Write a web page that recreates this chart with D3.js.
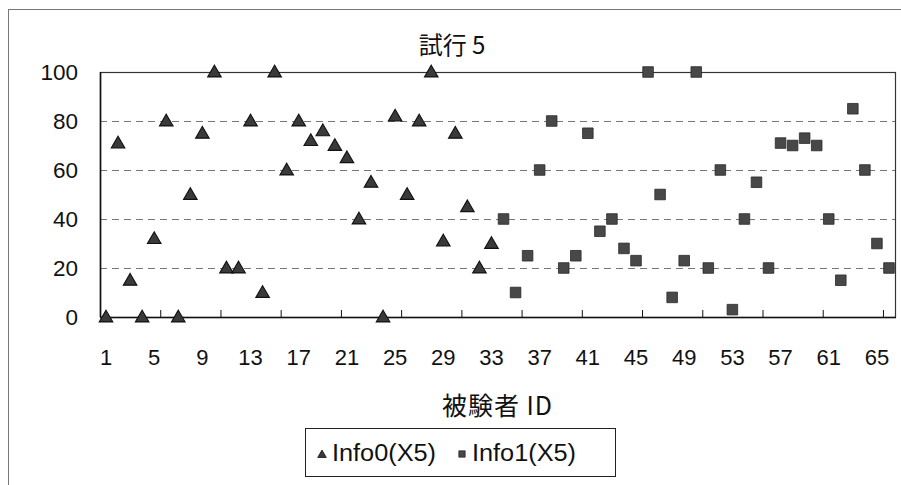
<!DOCTYPE html>
<html>
<head>
<meta charset="utf-8">
<script src="https://cdn.jsdelivr.net/npm/d3@7"></script>
<style>
  body { margin: 0; background: #fff; }
  svg { display: block; }
  text { font-family: "Liberation Sans", Arial, "Noto Sans CJK JP", sans-serif; fill: #111; }
</style>
</head>
<body>
<script>
// Subject IDs 1..66
const subjectIds = d3.range(1, 67);
// Info0(X5): subjects 1..33
const info0Ids = d3.range(1, 34);
const info0Values = [0, 71, 15, 0, 32, 80, 0, 50, 75, 100, 20, 20, 80, 10, 100, 60,
  80, 72, 76, 70, 65, 40, 55, 0, 82, 50, 80, 100, 31, 75, 45, 20, 30];
// Info1(X5): subjects 34..66
const info1Ids = d3.range(34, 67);
const info1Values = [40, 10, 25, 60, 80, 20, 25, 75, 35, 40, 28, 23, 100, 50, 8, 23,
  100, 20, 60, 3, 40, 55, 20, 71, 70, 73, 70, 40, 15, 85, 60, 30, 20];
const yTicks = [0, 20, 40, 60, 80, 100];
const xLabelIds = d3.range(1, 67, 4);
const xTickBoundaries = d3.range(5, 66, 5);
const seriesNames = ["Info0(X5)", "Info1(X5)"];

const W = 901, H = 485;
const plot = { left: 100, right: 895, top: 72, bottom: 317 };
const cjk = "'Noto Sans CJK JP', 'Liberation Sans', sans-serif";

const svg = d3.select("body").append("svg").attr("width", W).attr("height", H);

// outer chart frame
svg.append("rect")
  .attr("x", 8.5).attr("y", 9.5).attr("width", 900).attr("height", 490)
  .attr("fill", "none").attr("stroke", "#777").attr("stroke-width", 1);

const x = d3.scaleBand().domain(subjectIds).range([plot.left, plot.right]).padding(0);
const y = d3.scaleLinear().domain([0, 100]).range([plot.bottom, plot.top]);

// dashed gridlines
svg.append("g").selectAll("line")
  .data(yTicks.filter(v => v > 0 && v < 100))
  .join("line")
  .attr("x1", plot.left).attr("x2", plot.right)
  .attr("y1", d => y(d) + 0.5).attr("y2", d => y(d) + 0.5)
  .attr("stroke", "#777").attr("stroke-width", 1)
  .attr("stroke-dasharray", "7,5");

// plot border
svg.append("rect")
  .attr("x", plot.left + 0.5).attr("y", plot.top + 0.5)
  .attr("width", plot.right - plot.left).attr("height", plot.bottom - plot.top)
  .attr("fill", "none").attr("stroke", "#333").attr("stroke-width", 1.2);
svg.append("line")
  .attr("x1", plot.left + 0.5).attr("x2", plot.left + 0.5)
  .attr("y1", plot.top).attr("y2", plot.bottom)
  .attr("stroke", "#111").attr("stroke-width", 1.6);
svg.append("line")
  .attr("x1", plot.left).attr("x2", plot.right + 1)
  .attr("y1", plot.bottom + 0.5).attr("y2", plot.bottom + 0.5)
  .attr("stroke", "#111").attr("stroke-width", 1.6);

// y axis labels
const yAxis = d3.axisLeft(y).tickValues(yTicks).tickSize(0).tickPadding(22);
const gy = svg.append("g").attr("transform", `translate(${plot.left},0)`).call(yAxis);
gy.select(".domain").remove();
gy.selectAll("text").style("font-size", "22.5px").attr("fill", "#111");

// x axis: tick marks every 5 subjects, labels every 4
svg.append("g").selectAll("line")
  .data(xTickBoundaries)
  .join("line")
  .attr("x1", d => x(d) + x.bandwidth() + 0.5)
  .attr("x2", d => x(d) + x.bandwidth() + 0.5)
  .attr("y1", plot.bottom - 7).attr("y2", plot.bottom)
  .attr("stroke", "#111").attr("stroke-width", 1);

const xAxis = d3.axisBottom(x).tickValues(xLabelIds).tickSize(0).tickPadding(32);
const gx = svg.append("g").attr("transform", `translate(0,${plot.bottom})`).call(xAxis);
gx.select(".domain").remove();
gx.selectAll("text").style("font-size", "22px").attr("fill", "#111");

// title and axis title
svg.append("text")
  .attr("x", 452).attr("y", 54).attr("text-anchor", "middle")
  .style("font-size", "24px").style("font-family", cjk)
  .text("試行 5");
svg.append("text")
  .attr("x", (plot.left + plot.right) / 2).attr("y", 415).attr("text-anchor", "middle")
  .style("font-size", "25px").style("letter-spacing", "1px").style("font-family", cjk)
  .text("被験者 ID");

const tri = d3.symbol().type(d3.symbolTriangle).size(80);
const sq = d3.symbol().type(d3.symbolSquare).size(112);

// Info0 triangles
svg.append("g").selectAll("path")
  .data(info0Ids.map((id, i) => ({ id, v: info0Values[i] })))
  .join("path")
  .attr("d", tri)
  .attr("transform", d => `translate(${x(d.id) + x.bandwidth() / 2},${y(d.v) + 1})`)
  .attr("fill", "#3a3a3a").attr("stroke", "#111").attr("stroke-width", 1.1);

// Info1 squares
svg.append("g").selectAll("path")
  .data(info1Ids.map((id, i) => ({ id, v: info1Values[i] })))
  .join("path")
  .attr("d", sq)
  .attr("transform", d => `translate(${x(d.id) + x.bandwidth() / 2},${y(d.v)})`)
  .attr("fill", "#484848").attr("stroke", "#2a2a2a").attr("stroke-width", 0.8);

// legend
const lg = svg.append("g");
lg.append("rect")
  .attr("x", 305.5).attr("y", 428.5).attr("width", 310).attr("height", 48)
  .attr("fill", "#fff").attr("stroke", "#222").attr("stroke-width", 1);
lg.append("path")
  .attr("d", d3.symbol().type(d3.symbolTriangle).size(32))
  .attr("transform", "translate(322,455)")
  .attr("fill", "#3a3a3a").attr("stroke", "#111").attr("stroke-width", 0.8);
lg.append("text").attr("x", 332).attr("y", 461).style("font-size", "23px")
  .attr("textLength", 104).attr("lengthAdjust", "spacingAndGlyphs").text(seriesNames[0]);
lg.append("path")
  .attr("d", d3.symbol().type(d3.symbolSquare).size(40))
  .attr("transform", "translate(462,454)")
  .attr("fill", "#484848").attr("stroke", "#2a2a2a").attr("stroke-width", 0.8);
lg.append("text").attr("x", 472).attr("y", 461).style("font-size", "23px")
  .attr("textLength", 104).attr("lengthAdjust", "spacingAndGlyphs").text(seriesNames[1]);
</script>
</body>
</html>
